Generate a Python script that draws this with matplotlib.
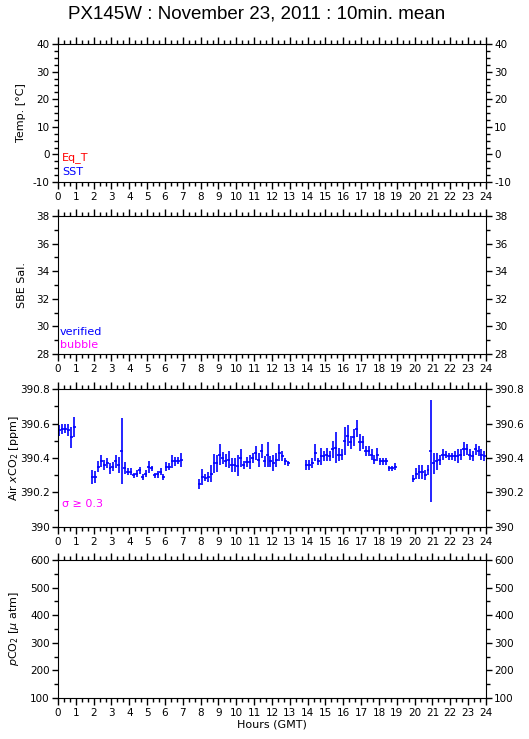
import numpy as np
import matplotlib
matplotlib.use("Agg")
import matplotlib.pyplot as plt
from matplotlib.ticker import MultipleLocator

plt.rcParams['font.family'] = ['DejaVu Sans']
plt.rcParams['mathtext.fontset'] = 'dejavusans'

title = "PX145W : November 23, 2011 : 10min. mean"

# Air xCO2, 10-min means, one list per continuous run (start = first 10-min bin)
seg_start = ["00:00", "01:50", "07:50", "13:50", "19:50"]
xco2_mean = [
    [390.56, 390.57, 390.57, 390.56, 390.52, 390.58],
    [390.29, 390.29, 390.35, 390.38, 390.36, 390.37, 390.34, 390.35, 390.38, 390.36,
     390.44, 390.34, 390.32, 390.32, 390.30, 390.31, 390.33, 390.29, 390.31, 390.35,
     390.34, 390.30, 390.305, 390.32, 390.29, 390.35, 390.35, 390.38, 390.38, 390.385,
     390.39],
    [390.25, 390.29, 390.285, 390.29, 390.31, 390.37, 390.37, 390.42, 390.40, 390.385,
     390.39, 390.36, 390.36, 390.355, 390.40, 390.36, 390.375, 390.375, 390.40, 390.43,
     390.39, 390.44, 390.38, 390.42, 390.38, 390.37, 390.39, 390.43, 390.41, 390.38,
     390.37],
    [390.36, 390.36, 390.37, 390.43, 390.38, 390.41, 390.41, 390.42, 390.41, 390.45,
     390.46, 390.42, 390.42, 390.50, 390.53, 390.49, 390.52, 390.57, 390.49, 390.49,
     390.44, 390.44, 390.42, 390.39, 390.42, 390.38, 390.38, 390.38, 390.34, 390.34,
     390.35],
    [390.28, 390.31, 390.32, 390.32, 390.30, 390.33, 390.44, 390.37, 390.38, 390.39,
     390.42, 390.42, 390.41, 390.41, 390.41, 390.41, 390.42, 390.45, 390.45, 390.42,
     390.41, 390.45, 390.44, 390.42, 390.41],
]
xco2_sd = [
    [0.03, 0.03, 0.025, 0.035, 0.06, 0.06],
    [0.04, 0.035, 0.03, 0.035, 0.03, 0.03, 0.03, 0.025, 0.04, 0.045,
     0.19, 0.035, 0.02, 0.02, 0.015, 0.02, 0.02, 0.02, 0.02, 0.035,
     0.015, 0.015, 0.02, 0.02, 0.015, 0.025, 0.02, 0.04, 0.025, 0.02,
     0.04],
    [0.03, 0.045, 0.02, 0.03, 0.05, 0.055, 0.05, 0.06, 0.035, 0.04,
     0.05, 0.04, 0.04, 0.06, 0.05, 0.025, 0.03, 0.04, 0.03, 0.04,
     0.04, 0.04, 0.03, 0.07, 0.03, 0.045, 0.04, 0.05, 0.03, 0.02,
     0.015],
    [0.03, 0.03, 0.03, 0.05, 0.02, 0.05, 0.03, 0.04, 0.03, 0.05,
     0.09, 0.04, 0.03, 0.08, 0.06, 0.04, 0.05, 0.05, 0.05, 0.04,
     0.03, 0.03, 0.03, 0.025, 0.04, 0.02, 0.02, 0.02, 0.015, 0.015,
     0.02],
    [0.02, 0.03, 0.04, 0.04, 0.03, 0.03, 0.295, 0.06, 0.05, 0.03,
     0.03, 0.02, 0.02, 0.02, 0.03, 0.04, 0.03, 0.04, 0.03, 0.03,
     0.03, 0.03, 0.03, 0.03, 0.03],
]

hour_ticks = list(range(0, 25))

panels = [
    dict(ylabel="Temp. [°C]", ylim=(-10, 40), major=10, minor=2.5, fmt="{:.0f}", lx=-0.075),
    dict(ylabel="SBE Sal.", ylim=(28, 38), major=2, minor=1, fmt="{:.0f}", lx=-0.072),
    dict(ylabel=r"Air $x$CO$_2$ [ppm]", ylim=(390, 390.8), major=0.2, minor=0.1, fmt="{:g}", lx=-0.086),
    dict(ylabel=r"$p$CO$_2$ [$\mu$ atm]", ylim=(100, 600), major=100, minor=50, fmt="{:.0f}", lx=-0.086),
]
bottoms = [0.7537, 0.521, 0.2869, 0.0555]

fig = plt.figure(figsize=(5.29, 7.39), dpi=100)
fig.suptitle(title, fontsize=13.5, x=0.485, y=0.992, family='Liberation Sans')

axes = []
for p, b in zip(panels, bottoms):
    ax = fig.add_axes([0.1096, b, 0.809, 0.1867])
    ax.set_xlim(0, 24)
    ax.set_ylim(*p['ylim'])
    ax.xaxis.set_minor_locator(MultipleLocator(1 / 3))
    ax.yaxis.set_major_locator(MultipleLocator(p['major']))
    ax.yaxis.set_minor_locator(MultipleLocator(p['minor']))
    ax.set_xticks(hour_ticks)
    ax.set_xticklabels([str(h) for h in hour_ticks])
    yt = ax.get_yticks()
    ax.set_yticks(yt)
    ax.set_yticklabels([p['fmt'].format(round(v, 2)) for v in yt])
    ax.set_ylim(*p['ylim'])
    ax.tick_params(which='both', direction='out', top=True, right=True,
                   labelright=True, labelsize=7.5, width=1, pad=2)
    ax.tick_params(axis='x', which='major', length=5)
    ax.tick_params(axis='x', which='minor', length=3)
    ax.tick_params(axis='y', which='major', length=4)
    ax.tick_params(axis='y', which='minor', length=3)
    ax.set_ylabel(p['ylabel'], fontsize=8)
    ax.yaxis.set_label_coords(p['lx'], 0.5)
    axes.append(ax)

ax1, ax2, ax3, ax4 = axes
ax1.text(0.01, 0.175, "Eq_T", color='red', fontsize=8, transform=ax1.transAxes, va='center')
ax1.text(0.01, 0.075, "SST", color='blue', fontsize=8, transform=ax1.transAxes, va='center')
ax2.text(0.005, 0.16, "verified", color='blue', fontsize=8, transform=ax2.transAxes, va='center')
ax2.text(0.005, 0.065, "bubble", color='magenta', fontsize=8, transform=ax2.transAxes, va='center')
ax3.text(0.01, 0.167, "σ ≥ 0.3", color='magenta', fontsize=8, transform=ax3.transAxes, va='center')

for start, m, s in zip(seg_start, xco2_mean, xco2_sd):
    hh, mm = start.split(":")
    t0 = int(hh) + int(mm) / 60
    t = t0 + (np.arange(len(m)) + 0.5) / 6
    ax3.errorbar(t, m, yerr=s, xerr=1 / 12, fmt='none', ecolor='blue',
                 elinewidth=1.2, capsize=0)

ax4.set_xlabel("Hours (GMT)", fontsize=8, labelpad=1)

fig.savefig("out.png", dpi=100)
